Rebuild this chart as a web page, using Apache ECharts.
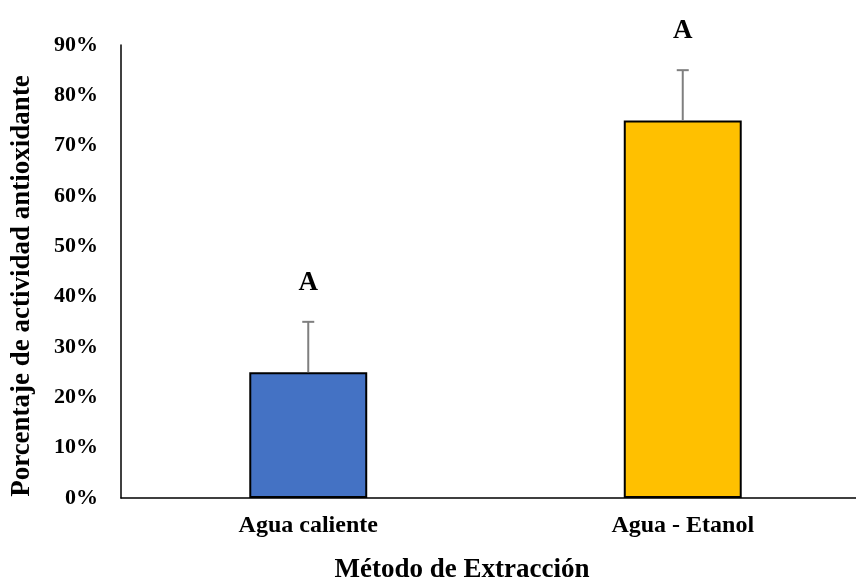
<!DOCTYPE html>
<html>
<head>
<meta charset="utf-8">
<script src="https://cdn.jsdelivr.net/npm/echarts@6/dist/echarts.min.js"></script>
<style>html,body{margin:0;padding:0;background:#fff}#c{width:856px;height:581px}</style>
</head>
<body>
<div id="c"></div>
<script>
var categories = ['Agua caliente', 'Agua - Etanol'];
var values = [25, 75];
var errors = [10, 10];
var letters = ['A', 'A'];
var colors = ['#4472C4', '#FFC000'];
var yTicks = [0, 10, 20, 30, 40, 50, 60, 70, 80, 90];

var chart = echarts.init(document.getElementById('c'), null, {renderer: 'canvas'});
var font = 'Liberation Serif, Times New Roman, serif';

var errData = categories.map(function (c, i) { return [i, values[i], errors[i]]; });

chart.setOption({
  animation: false,
  backgroundColor: '#fff',
  grid: {left: 121, width: 749, top: 45, bottom: 83, containLabel: false, outerBoundsMode: 'none'},
  xAxis: {
    type: 'category',
    data: categories,
    axisLine: {lineStyle: {color: '#000', width: 1.5}},
    axisTick: {show: false},
    axisLabel: {margin: 16, color: '#000', fontFamily: font, fontWeight: 'bold', fontSize: 24}
  },
  yAxis: {
    type: 'value',
    min: 0, max: 90, interval: 10,
    axisLine: {show: true, lineStyle: {color: '#000', width: 1.5}},
    axisTick: {show: false},
    splitLine: {show: false},
    axisLabel: {margin: 23, color: '#000', fontFamily: font, fontWeight: 'bold', fontSize: 22,
      formatter: function (v) { return yTicks.indexOf(v) >= 0 ? v + '%' : ''; }}
  },
  graphic: [
    {type: 'text', x: 22, y: 286, rotation: Math.PI / 2,
      style: {text: 'Porcentaje de actividad antioxidante', fill: '#000', font: 'bold 27px ' + font, align: 'center', verticalAlign: 'middle'}},
    {type: 'text', x: 462, y: 570,
      style: {text: 'Método de Extracción', fill: '#000', font: 'bold 27px ' + font, align: 'center', verticalAlign: 'middle'}}
  ],
  series: [
    {
      type: 'bar',
      data: values.map(function (v, i) { return {value: v, itemStyle: {color: colors[i]}}; }),
      barWidth: '31.5%',
      itemStyle: {borderColor: '#000', borderWidth: 2}
    },
    {
      type: 'custom',
      data: errData,
      z: 5,
      renderItem: function (params, api) {
        var x = api.value(0), v = api.value(1), e = api.value(2);
        var base = api.coord([x, v]);
        var top = api.coord([x, v + e]);
        var half = 6;
        return {
          type: 'group',
          children: [
            {type: 'line', shape: {x1: base[0], y1: base[1], x2: top[0], y2: top[1]}, style: {stroke: '#7F7F7F', lineWidth: 2}},
            {type: 'line', shape: {x1: top[0] - half, y1: top[1], x2: top[0] + half, y2: top[1]}, style: {stroke: '#7F7F7F', lineWidth: 2}},
            {type: 'text', x: top[0], y: top[1] - 39, style: {text: letters[params.dataIndex], fill: '#000', font: 'bold 27px ' + font, align: 'center', verticalAlign: 'middle'}}
          ]
        };
      }
    }
  ]
});
</script>
</body>
</html>
